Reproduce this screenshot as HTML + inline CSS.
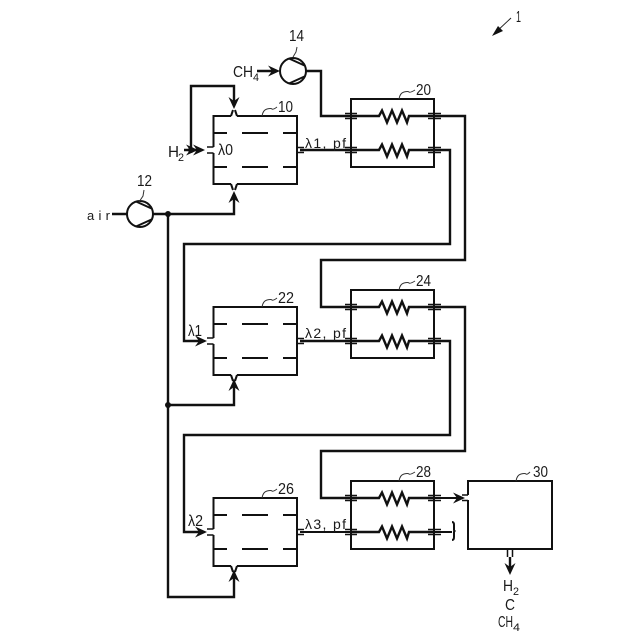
<!DOCTYPE html>
<html><head><meta charset="utf-8"><style>
html,body{margin:0;padding:0;background:#fff}
svg{display:block}
text{font-family:"Liberation Sans",sans-serif;font-size:16px;fill:#1a1a1a}
.l{fill:none;stroke:#111;stroke-width:2}
.s{fill:none;stroke:#111;stroke-width:1.5}
.t{fill:none;stroke:#111;stroke-width:2.4}
.n{fill:none;stroke:#333;stroke-width:1}
.sm{font-size:11px}
</style></head><body>
<svg width="640" height="640" viewBox="0 0 640 640" xmlns="http://www.w3.org/2000/svg">
<defs>
<g id="reactor">
<path class="l" d="M231 68H213.500V0H297V68H237M231 68L233 74M237 68L235 74"/>
<path class="l" d="M213.500 17H227M242 17H268M283 17H297M213.500 51H227M242 51H268M283 51H297"/>
<path class="s" d="M297 31.500H304M297 36.500H304"/>
<rect x="211" y="31" width="5" height="6" fill="#fff"/>
<path class="s" d="M207 31H213.500M207 37H213.500"/>
<path class="n" d="M262 0q1 -6 5 -7t5 0 5 -2"/>
</g>
<g id="hx">
<path class="l" d="M351 0H434V68H351ZM"/>
<path class="s" d="M345 14.500H357M345 19.500H357M345 48.500H357M345 53.500H357M428 14.500H441M428 19.500H441M428 48.500H441M428 53.500H441"/>
<path class="t" d="M351 17H379L382 11.500 387 23.500 392 11.500 397 23.500 402 11.500 407 23.500 409 17H434"/>
<path class="t" d="M351 51H379L382 45.500 387 57.500 392 45.500 397 57.500 402 45.500 407 57.500 409 51H434"/>
<path class="n" d="M399 0q1 -6 5 -7t5 0 6 -2"/>
</g>
<g id="pump">
<circle class="l" cx="0" cy="0" r="13"/>
<path class="l" d="M-4 -12.500L11.500 -5.500M-4 12.500L11.500 5.500"/>
</g>
<path id="arr" d="M0 0L-12 -5.500L-8 0L-12 5.500Z" fill="#111"/>
</defs>

<use href="#reactor" x="0" y="116"/>
<use href="#reactor" x="0" y="307"/>
<use href="#reactor" x="0" y="498"/>
<!-- top port on reactor 10 -->
<rect x="231" y="114" width="6" height="4" fill="#fff"/>
<path class="l" d="M231 116L233 110M237 116L235 110"/>
<use href="#hx" x="0" y="99"/>
<use href="#hx" x="0" y="290"/>
<use href="#hx" x="0" y="481"/>
<rect class="l" x="468" y="481" width="84" height="68" fill="#fff"/>
<rect x="466" y="495" width="4" height="5" fill="#fff"/>
<path class="s" d="M462 495H468M462 500.500H468"/>
<path class="s" d="M507.500 549V557M512.500 549V557"/>
<path class="n" d="M516 481q1 -6 5 -7t5 0 4 -2"/>

<!-- connectors -->
<path class="t" d="M300 150H351"/>
<path class="t" d="M300 341H351"/>
<path class="l" d="M300 532H351"/>
<path class="l" d="M434 498H462"/>
<path class="l" d="M434 532H452"/>
<path class="l" d="M452 522q2 0 2 3v5q0 1 1.500 1q-1.500 0 -1.500 1v5q0 3 -2 3"/>
<use href="#arr" transform="translate(465,498)"/>

<path class="t" d="M112 214H127M153 214H234V196"/>
<use href="#arr" transform="translate(234,191) rotate(-90)"/>
<path class="t" d="M168 214V597H234V575"/>
<use href="#arr" transform="translate(234,570) rotate(-90)"/>
<path class="t" d="M168 405H234V384"/>
<use href="#arr" transform="translate(234,379) rotate(-90)"/>
<circle cx="168" cy="214" r="3" fill="#111"/>
<circle cx="168" cy="405" r="3" fill="#111"/>

<path class="t" d="M184 150H202"/>
<path class="t" d="M191 150V86H234V104"/>
<use href="#arr" transform="translate(234,109) rotate(90)"/>
<use href="#arr" transform="translate(205,150)"/>
<use href="#arr" transform="translate(198,150)"/>
<circle cx="191" cy="150" r="3" fill="#111"/>

<path class="t" d="M257 71H275"/>
<use href="#arr" transform="translate(280,71)"/>
<path class="t" d="M306 71H321V116H351"/>
<path class="t" d="M434 116H465V260H321V307H351"/>
<path class="t" d="M434 150H450V244H184V341H202"/>
<use href="#arr" transform="translate(207,341)"/>
<path class="t" d="M434 307H465V451H321V498H351"/>
<path class="t" d="M434 341H450V435H184V532H202"/>
<use href="#arr" transform="translate(207,532)"/>
<path class="t" d="M510 557V570"/>
<use href="#arr" transform="translate(510,575) rotate(90)"/>

<use href="#pump" x="140" y="214"/>
<use href="#pump" x="293" y="71"/>

<path class="n" d="M139 202l4 -6 1 -6"/>
<path class="n" d="M293 57l3 -5 1 -5"/>
<path d="M511 18L495 33" stroke="#222" stroke-width="1" fill="none"/>
<path d="M492 36L503 31L498 26Z" fill="#111"/>

<text x="516" y="22" textLength="5" lengthAdjust="spacingAndGlyphs">1</text>
<text x="289" y="41" textLength="15" lengthAdjust="spacingAndGlyphs">14</text>
<text x="137" y="186" textLength="15" lengthAdjust="spacingAndGlyphs">12</text>
<text x="233" y="77" textLength="20" lengthAdjust="spacingAndGlyphs">CH</text>
<text x="253" y="81" class="sm" textLength="6" lengthAdjust="spacingAndGlyphs">4</text>
<text x="168" y="157" textLength="11" lengthAdjust="spacingAndGlyphs">H</text>
<text x="178" y="161" class="sm" textLength="6" lengthAdjust="spacingAndGlyphs">2</text>
<text x="87" y="220" textLength="23" style="font-size:13px">air</text>
<text x="278" y="112" textLength="15" lengthAdjust="spacingAndGlyphs">10</text>
<text x="416" y="95" textLength="15" lengthAdjust="spacingAndGlyphs">20</text>
<text x="278" y="303" textLength="16" lengthAdjust="spacingAndGlyphs">22</text>
<text x="416" y="286" textLength="15" lengthAdjust="spacingAndGlyphs">24</text>
<text x="278" y="494" textLength="16" lengthAdjust="spacingAndGlyphs">26</text>
<text x="416" y="477" textLength="15" lengthAdjust="spacingAndGlyphs">28</text>
<text x="533" y="477" textLength="15" lengthAdjust="spacingAndGlyphs">30</text>
<text x="218" y="155" textLength="15" lengthAdjust="spacingAndGlyphs">λ0</text>
<text x="188" y="336" textLength="14" lengthAdjust="spacingAndGlyphs">λ1</text>
<text x="188" y="526" textLength="15" lengthAdjust="spacingAndGlyphs">λ2</text>
<text x="305" y="148" textLength="41" style="font-size:14px">λ1, pf</text>
<text x="305" y="338" textLength="41" style="font-size:14px">λ2, pf</text>
<text x="305" y="529" textLength="41" style="font-size:14px">λ3, pf</text>
<text x="503" y="591" textLength="10" lengthAdjust="spacingAndGlyphs">H</text>
<text x="513" y="595" class="sm" textLength="6" lengthAdjust="spacingAndGlyphs">2</text>
<text x="505" y="610" textLength="10" lengthAdjust="spacingAndGlyphs">C</text>
<text x="498" y="627" textLength="15" lengthAdjust="spacingAndGlyphs">CH</text>
<text x="513" y="631" class="sm" textLength="7" lengthAdjust="spacingAndGlyphs">4</text>
</svg>
</body></html>
